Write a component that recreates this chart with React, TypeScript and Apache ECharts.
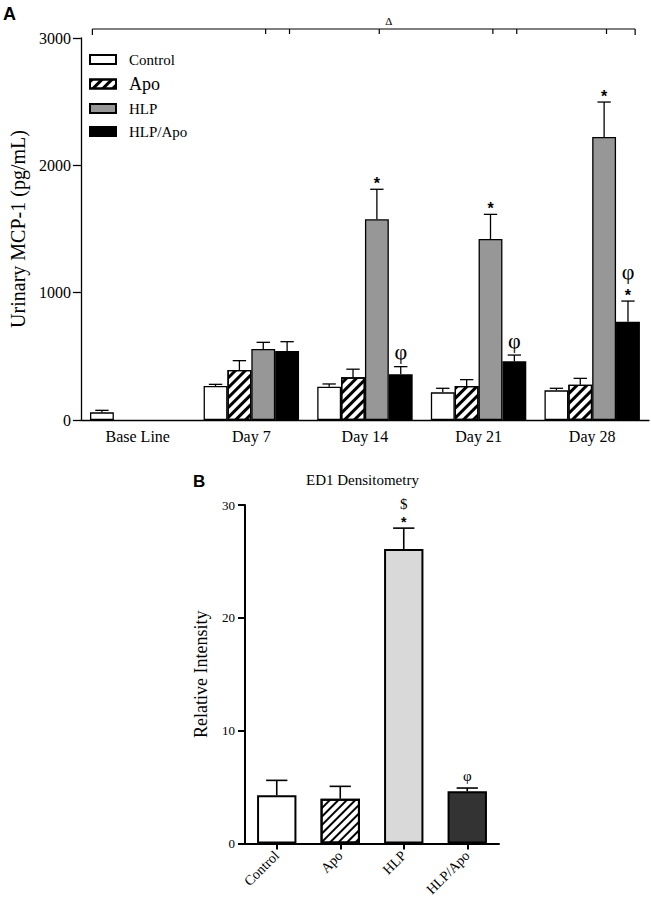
import React, { useEffect, useRef } from 'react';
import * as echarts from 'echarts';

// ---------- Panel A data ----------
const categoriesA = ['Base Line', 'Day 7', 'Day 14', 'Day 21', 'Day 28'];
const seriesNamesA = ['Control', 'Apo', 'HLP', 'HLP/Apo'];
const controlMean = [60, 267, 262, 217, 233];
const controlErr = [16, 13, 21, 32, 16];
const apoMean = [null, 393, 335, 267, 277];
const apoErr = [null, 73, 64, 50, 50];
const hlpMean = [null, 558, 1576, 1421, 2223];
const hlpErr = [null, 52, 236, 194, 274];
const hlpApoMean = [null, 542, 359, 461, 772];
const hlpApoErr = [null, 73, 60, 49, 162];
const controlMarks = [[], [], [], [], []];
const apoMarks = [[], [], [], [], []];
const hlpMarks = [[], [], ['*'], ['*'], ['*']];
const hlpApoMarks = [[], [], ['φ'], ['φ'], ['*', 'φ']];
const yTicksA = [0, 1000, 2000, 3000];
// bracket above panel A: [category, slot]
const bracketStart = [0, -0.4];
const bracketEnd = [4, 3.3];
const bracketTicks = [[1, 2.1], [1, 3.1], [2, 2.1], [3, 2.1], [3, 3.1], [4, 2.1]];
const bracketLabel = 'Δ';

// ---------- Panel B data ----------
const categoriesB = ['Control', 'Apo', 'HLP', 'HLP/Apo'];
const ed1Mean = [4.26, 3.97, 26.1, 4.62];
const ed1Err = [1.33, 1.09, 1.85, 0.29];
const ed1Marks = [[], [], ['*', '$'], ['φ']];
const yTicksB = [0, 10, 20, 30];

const FONT = '"Liberation Serif", "Times New Roman", serif';
const gapA = 0.16;
const gapB = 0.38;

const meansA = [controlMean, apoMean, hlpMean, hlpApoMean];
const errsA = [controlErr, apoErr, hlpErr, hlpApoErr];
const marksA = [controlMarks, apoMarks, hlpMarks, hlpApoMarks];

const hatchA = {
  symbol: 'rect', symbolSize: 1, color: '#000', backgroundColor: '#fff',
  dashArrayX: [1, 0], dashArrayY: [2.6, 4], rotation: -Math.PI / 4,
};
const hatchB = {
  symbol: 'rect', symbolSize: 1, color: '#000', backgroundColor: '#fff',
  dashArrayX: [1, 0], dashArrayY: [1.6, 3.4], rotation: -Math.PI / 4,
};

const styleA = [
  { color: '#fff', borderColor: '#000', borderWidth: 1.3 },
  { color: '#fff', borderColor: '#000', borderWidth: 1.3, decal: hatchA },
  { color: '#979797', borderColor: '#000', borderWidth: 1.3 },
  { color: '#000', borderColor: '#000', borderWidth: 1.3 },
];
const styleB = [
  { color: '#fff', borderColor: '#000', borderWidth: 2 },
  { color: '#fff', borderColor: '#000', borderWidth: 2, decal: hatchB },
  { color: '#d9d9d9', borderColor: '#000', borderWidth: 2 },
  { color: '#333', borderColor: '#000', borderWidth: 2 },
];

// box heights / fonts for significance marks
function markSpec(m: string, big: boolean) {
  if (m === '*') {
    const fs = big ? 16 : 14;
    return { h: fs * 1.25, font: `bold ${fs}px "Liberation Sans", Arial, sans-serif` };
  }
  const fs = big ? 22 : 15;
  return { h: fs * 1.25, font: `${fs}px ${FONT}` };
}

function marksGroup(marks: string[], x: number, yCap: number, big: boolean) {
  const out: any[] = [];
  let cursor = yCap;
  if (marks.length) {
    if (marks[0] === '*') cursor += big ? 4 : 3;
    else cursor -= big ? 1 : 3;
  }
  marks.forEach((m) => {
    const sp = markSpec(m, big);
    const c = cursor - sp.h / 2;
    out.push({
      type: 'text', x, y: c,
      style: {
        text: m, font: sp.font, fill: '#000',
        align: 'center', verticalAlign: 'middle',
        textAlign: 'center', textVerticalAlign: 'middle',
      },
    });
    cursor -= sp.h;
  });
  return out;
}

function errorSeriesA(s: number) {
  const data: any[] = [];
  meansA[s].forEach((m, i) => {
    if (m != null) data.push([i, m, errsA[s][i]]);
  });
  return {
    type: 'custom', name: 'errA' + s, xAxisIndex: 0, yAxisIndex: 0, z: 5, clip: false,
    data,
    renderItem: (params: any, api: any) => {
      const cat = api.value(0);
      const mean = api.value(1);
      const err = api.value(2);
      const catW = api.size([1, 0])[0];
      const bw = (catW * (1 - gapA)) / 4;
      const x = api.coord([cat, 0])[0] + (s - 1.5) * bw;
      const yTop = api.coord([cat, mean])[1];
      const yErr = api.coord([cat, mean + err])[1];
      const half = bw * 0.28;
      const st = { stroke: '#000', lineWidth: 1.3 };
      return {
        type: 'group',
        children: [
          { type: 'line', shape: { x1: x, y1: yTop, x2: x, y2: yErr }, style: st },
          { type: 'line', shape: { x1: x - half, y1: yErr, x2: x + half, y2: yErr }, style: st },
          ...marksGroup(marksA[s][cat], x, yErr, true),
        ],
      };
    },
  };
}

const App: React.FC = () => {
  const ref = useRef<HTMLDivElement>(null);
  useEffect(() => {
    if (!ref.current) return;
    const chart = echarts.init(ref.current, undefined, { renderer: 'svg' });

    const barSeriesA = seriesNamesA.map((name, s) => ({
      name, type: 'bar', xAxisIndex: 0, yAxisIndex: 0,
      data: meansA[s], barGap: '0%', barCategoryGap: '16%',
      itemStyle: styleA[s], z: 2,
    }));

    const bracketSeries = {
      type: 'custom', name: 'bracket', xAxisIndex: 0, yAxisIndex: 0, clip: false, z: 5,
      data: [[0, yTicksA[yTicksA.length - 1]]],
      renderItem: (params: any, api: any) => {
        const catW = api.size([1, 0])[0];
        const bw = (catW * (1 - gapA)) / 4;
        const px = (c: number, sl: number) => api.coord([c, 0])[0] + (sl - 1.5) * bw;
        const y = api.coord([0, api.value(1)])[1] - 9;
        const st = { stroke: '#000', lineWidth: 1.2 };
        const x0 = px(bracketStart[0], bracketStart[1]);
        const x1 = px(bracketEnd[0], bracketEnd[1]);
        const children: any[] = [
          { type: 'line', shape: { x1: x0, y1: y, x2: x1, y2: y }, style: st },
          { type: 'line', shape: { x1: x0, y1: y, x2: x0, y2: y + 6 }, style: st },
          { type: 'line', shape: { x1: x1, y1: y, x2: x1, y2: y + 6 }, style: st },
        ];
        bracketTicks.forEach(([c, sl]) => {
          const xx = px(c, sl);
          children.push({ type: 'line', shape: { x1: xx, y1: y, x2: xx, y2: y + 5 }, style: st });
        });
        children.push({
          type: 'text', x: px(2, 2.5), y: y - 8,
          style: {
            text: bracketLabel, font: `11px ${FONT}`, fill: '#000',
            align: 'center', verticalAlign: 'middle',
            textAlign: 'center', textVerticalAlign: 'middle',
          },
        });
        return { type: 'group', children };
      },
    };

    const barSeriesB = {
      name: 'ED1', type: 'bar', xAxisIndex: 1, yAxisIndex: 1,
      barCategoryGap: '38%', z: 2,
      data: ed1Mean.map((v, i) => ({ value: v, itemStyle: styleB[i] })),
    };

    const errSeriesB = {
      type: 'custom', name: 'errB', xAxisIndex: 1, yAxisIndex: 1, clip: false, z: 5,
      data: ed1Mean.map((v, i) => [i, v, ed1Err[i]]),
      renderItem: (params: any, api: any) => {
        const cat = api.value(0);
        const mean = api.value(1);
        const err = api.value(2);
        const catW = api.size([1, 0])[0];
        const bw = catW * (1 - gapB);
        const x = api.coord([cat, 0])[0];
        const yTop = api.coord([cat, mean])[1];
        const yErr = api.coord([cat, mean + err])[1];
        const half = bw * 0.27;
        const st = { stroke: '#000', lineWidth: 1.6 };
        return {
          type: 'group',
          children: [
            { type: 'line', shape: { x1: x, y1: yTop, x2: x, y2: yErr }, style: st },
            { type: 'line', shape: { x1: x - half, y1: yErr, x2: x + half, y2: yErr }, style: st },
            ...marksGroup(ed1Marks[cat], x, yErr, false),
          ],
        };
      },
    };

    const axisTextA = { fontFamily: FONT, fontSize: 16, color: '#000' };
    const plain = (v: number) => String(v);

    chart.setOption({
      animation: false,
      backgroundColor: '#fff',
      grid: [
        { left: 72, top: 38, width: 577, height: 382 },
        { left: 245, top: 505, width: 254, height: 340 },
      ],
      legend: {
        orient: 'vertical', left: 84, top: 47,
        itemWidth: 26, itemHeight: 9, itemGap: 8, icon: 'rect',
        selectedMode: false,
        data: [
          { name: 'Control' },
          { name: 'Apo', textStyle: { fontSize: 18 } },
          { name: 'HLP' },
          { name: 'HLP/Apo' },
        ],
        textStyle: { fontFamily: FONT, fontSize: 15, color: '#000', padding: [0, 0, 0, 8] },
      },
      xAxis: [
        {
          type: 'category', gridIndex: 0, data: categoriesA,
          axisLine: { lineStyle: { color: '#000', width: 1.3 } },
          axisTick: { show: false },
          axisLabel: { ...axisTextA, margin: 8 },
        },
        {
          type: 'category', gridIndex: 1, data: categoriesB,
          axisLine: { lineStyle: { color: '#000', width: 2 } },
          axisTick: { show: true, alignWithLabel: true, length: 6, lineStyle: { width: 2, color: '#000' } },
          axisLabel: { fontFamily: FONT, fontSize: 14, color: '#000', rotate: 45, margin: 10 },
        },
      ],
      yAxis: [
        {
          type: 'value', gridIndex: 0, min: yTicksA[0], max: yTicksA[yTicksA.length - 1], interval: 1000,
          name: 'Urinary MCP-1 (pg/mL)', nameLocation: 'middle', nameGap: 49,
          nameTextStyle: { fontFamily: FONT, fontSize: 20, color: '#000' },
          axisLine: { show: true, lineStyle: { color: '#000', width: 1.3 } },
          axisTick: { show: true, length: 8, lineStyle: { color: '#000', width: 1.3 } },
          axisLabel: { ...axisTextA, margin: 10, formatter: plain },
          splitLine: { show: false },
        },
        {
          type: 'value', gridIndex: 1, min: yTicksB[0], max: yTicksB[yTicksB.length - 1], interval: 10,
          name: 'Relative Intensity', nameLocation: 'middle', nameGap: 35,
          nameTextStyle: { fontFamily: FONT, fontSize: 18, color: '#000' },
          axisLine: { show: true, lineStyle: { color: '#000', width: 2 } },
          axisTick: { show: true, length: 7, lineStyle: { color: '#000', width: 2 } },
          axisLabel: { fontFamily: FONT, fontSize: 13, color: '#000', margin: 10, formatter: plain },
          splitLine: { show: false },
        },
      ],
      graphic: [
        {
          type: 'text', left: 3, top: 5,
          style: { text: 'A', font: 'bold 18px "Liberation Sans", Arial, sans-serif', fill: '#000' },
        },
        {
          type: 'text', left: 193, top: 473,
          style: { text: 'B', font: 'bold 17px "Liberation Sans", Arial, sans-serif', fill: '#000' },
        },
        {
          type: 'text', left: 306, top: 472,
          style: { text: 'ED1 Densitometry', font: `15px ${FONT}`, fill: '#000' },
        },
      ],
      series: [
        ...barSeriesA,
        ...seriesNamesA.map((_, s) => errorSeriesA(s)),
        bracketSeries,
        barSeriesB,
        errSeriesB,
      ],
    });
    return () => chart.dispose();
  }, []);
  return (
    <div
      ref={ref}
      style={{ position: 'absolute', left: 0, top: 0, width: 651, height: 899, background: '#fff' }}
    />
  );
};

export default App;
